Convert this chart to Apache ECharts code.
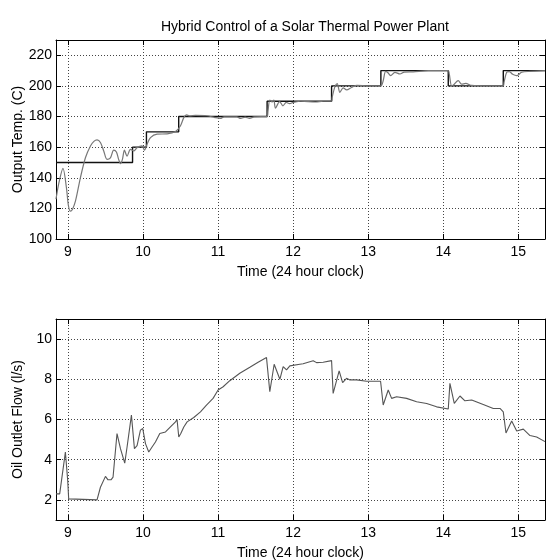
<!DOCTYPE html>
<html>
<head>
<meta charset="utf-8">
<script src="https://cdn.jsdelivr.net/npm/echarts@6/dist/echarts.min.js"></script>
<style>
html,body{margin:0;padding:0;background:#fff;}
#c{width:546px;height:560px;}
</style>
</head>
<body>
<div id="c"></div>
<script>
// ---- data (time in hours, 24h clock) ----
var setTime = [8.84, 9.86, 10.045, 10.475, 11.653, 12.512, 13.169, 14.067, 14.80, 15.356];
var setTemp = [150, 160, 170, 180, 190, 200, 210, 200, 210, 210];

var outTime = [8.84, 8.88, 8.933, 8.979, 9.005, 9.032, 9.06, 9.099, 9.165, 9.232, 9.299, 9.345, 9.387, 9.432, 9.476, 9.52, 9.565, 9.609, 9.645, 9.675, 9.699, 9.725, 9.752, 9.787, 9.832, 9.876, 9.92, 9.987, 10.019, 10.053, 10.099, 10.187, 10.32, 10.432, 10.499, 10.543, 10.58, 10.62, 10.70, 10.85, 10.95, 11.03, 11.08, 11.25, 11.30, 11.36, 11.42, 11.48, 11.653, 11.665, 11.689, 11.72, 11.743, 11.764, 11.82, 11.864, 11.908, 11.953, 12.00, 12.1, 12.3, 12.4, 12.512, 12.52, 12.556, 12.587, 12.623, 12.667, 12.712, 12.779, 12.85, 13.0, 13.169, 13.2, 13.232, 13.26, 13.299, 13.356, 13.423, 13.48, 13.6, 13.8, 14.067, 14.08, 14.112, 14.14, 14.2, 14.245, 14.30, 14.379, 14.6, 14.8, 14.81, 14.845, 14.88, 14.925, 14.979, 15.045, 15.156, 15.356];
var outTemp = [126, 137, 146.2, 133.5, 122, 118.2, 119.5, 124.7, 140, 153.1, 160.8, 163.8, 164.7, 163, 157.5, 152, 153, 158, 156.8, 152, 149.2, 152, 158, 154.2, 158.6, 157.5, 159.7, 160.8, 158, 161.9, 166.2, 168.5, 168.7, 170.2, 174, 179.3, 181.1, 180.4, 180.7, 180.5, 179.5, 178.8, 179.8, 179.8, 178.8, 179.6, 178.8, 179.8, 180, 183.7, 190.7, 189.5, 190.7, 185.5, 189.8, 187, 189.2, 188.5, 189.2, 190, 189.5, 190, 190, 192.5, 199.4, 201.5, 195.8, 198.7, 197.4, 199, 200.3, 200, 200, 203.4, 209.5, 208.8, 206.7, 208.9, 207.8, 209, 209.2, 210, 210, 207.8, 200.1, 200.8, 203.4, 201.2, 201.6, 200.3, 200, 200, 202.3, 208.9, 209.4, 207.6, 206.7, 208.9, 209.5, 210];

var flowTime = [8.84, 8.889, 8.907, 8.965, 8.996, 9.009, 9.387, 9.432, 9.499, 9.533, 9.573, 9.6, 9.653, 9.699, 9.756, 9.787, 9.845, 9.885, 9.92, 9.965, 9.996, 10.032, 10.076, 10.12, 10.165, 10.223, 10.299, 10.365, 10.432, 10.453, 10.476, 10.503, 10.543, 10.587, 10.676, 10.765, 10.845, 10.933, 11.0, 11.067, 11.156, 11.289, 11.423, 11.533, 11.645, 11.689, 11.747, 11.823, 11.867, 11.912, 11.956, 12.089, 12.133, 12.267, 12.312, 12.4, 12.512, 12.533, 12.613, 12.659, 12.712, 12.756, 12.845, 12.979, 13.165, 13.2, 13.267, 13.312, 13.379, 13.512, 13.645, 13.779, 13.912, 14.067, 14.089, 14.147, 14.223, 14.289, 14.379, 14.533, 14.667, 14.756, 14.8, 14.836, 14.912, 14.979, 15.067, 15.156, 15.245, 15.356];
var flowVal = [2.3, 2.3, 2.25, 4.38, 2.97, 2.05, 2.0, 2.63, 3.17, 3.0, 3.0, 3.13, 5.3, 4.55, 3.83, 4.63, 6.22, 4.55, 4.7, 5.47, 5.55, 4.8, 4.38, 4.63, 4.88, 5.3, 5.38, 5.63, 5.88, 6.0, 5.13, 5.3, 5.63, 5.88, 6.1, 6.38, 6.72, 7.05, 7.47, 7.63, 7.93, 8.3, 8.6, 8.85, 9.08, 7.38, 8.75, 8.0, 8.63, 8.47, 8.67, 8.75, 8.77, 8.92, 8.83, 8.85, 8.93, 7.3, 8.42, 7.83, 8.05, 7.97, 7.97, 7.9, 7.9, 6.72, 7.47, 7.05, 7.13, 7.05, 6.88, 6.8, 6.63, 6.52, 7.8, 6.8, 7.17, 6.93, 6.97, 6.75, 6.55, 6.55, 6.38, 5.33, 5.93, 5.43, 5.52, 5.2, 5.13, 4.9];

var tempTicks = [100, 120, 140, 160, 180, 200, 220];
var flowTicks = [2, 4, 6, 8, 10];
var hourTicks = [9, 10, 11, 12, 13, 14, 15];

function pairs(a, b) { return a.map(function (v, i) { return [v, b[i]]; }); }

var FONT = '"Liberation Sans", Arial, Helvetica, sans-serif';
var xMin = 8.84, xMax = 15.356;

function xAx(gi, pos, showLabel, name) {
  return {
    type: 'value', gridIndex: gi, position: pos, min: xMin, max: xMax,
    minInterval: 1, maxInterval: 1,
    name: name || '', nameLocation: 'middle', nameGap: 26, nameMoveOverlap: false,
    nameTextStyle: { fontFamily: FONT, fontSize: 14, color: '#000' },
    axisLine: { show: true, onZero: false, lineStyle: { color: '#000', width: 1 } },
    axisTick: { show: true, inside: true, length: 5, lineStyle: { color: '#000' } },
    axisLabel: {
      show: showLabel, margin: 6, fontFamily: FONT, fontSize: 14, color: '#000',
      formatter: function (v) { return hourTicks.indexOf(Math.round(v * 1000) / 1000) >= 0 ? String(v) : ''; }
    },
    splitLine: { show: showLabel, lineStyle: { color: '#444', type: [1, 2], width: 1 } }
  };
}
function yAx(gi, pos, showLabel, mn, mx, step, ticks, name) {
  return {
    type: 'value', gridIndex: gi, position: pos, min: mn, max: mx,
    minInterval: step, maxInterval: step,
    name: name || '', nameLocation: 'middle', nameGap: 31, nameMoveOverlap: false,
    nameTextStyle: { fontFamily: FONT, fontSize: 14, color: '#000' },
    axisLine: { show: true, onZero: false, lineStyle: { color: '#000', width: 1 } },
    axisTick: { show: true, inside: true, length: 5, lineStyle: { color: '#000' } },
    axisLabel: {
      show: showLabel, margin: 4, fontFamily: FONT, fontSize: 14, color: '#000',
      formatter: function (v) { return ticks.indexOf(v) >= 0 ? String(v) : ''; }
    },
    splitLine: { show: showLabel, lineStyle: { color: '#444', type: [1, 2], width: 1 } }
  };
}

var chart = echarts.init(document.getElementById('c'), null, { renderer: 'canvas' });
chart.setOption({
  animation: false,
  backgroundColor: '#fff',
  title: {
    text: 'Hybrid Control of a Solar Thermal Power Plant',
    left: 156, top: 15,
    textStyle: { fontFamily: FONT, fontSize: 14, fontWeight: 'normal', color: '#000' }
  },
  grid: [
    { left: 56, top: 40, width: 489, height: 199, containLabel: false, outerBoundsMode: 'none' },
    { left: 56, top: 319, width: 489, height: 201, containLabel: false, outerBoundsMode: 'none' }
  ],
  xAxis: [
    xAx(0, 'bottom', true, 'Time (24 hour clock)'),
    xAx(0, 'top', false),
    xAx(1, 'bottom', true, 'Time (24 hour clock)'),
    xAx(1, 'top', false)
  ],
  yAxis: [
    yAx(0, 'left', true, 100, 230, 20, tempTicks, 'Output Temp. (C)'),
    yAx(0, 'right', false, 100, 230, 20, tempTicks),
    yAx(1, 'left', true, 1, 11, 2, flowTicks, 'Oil Outlet Flow (l/s)'),
    yAx(1, 'right', false, 1, 11, 2, flowTicks)
  ],
  series: [
    {
      type: 'line', xAxisIndex: 0, yAxisIndex: 0, step: 'end', symbol: 'none',
      data: pairs(setTime, setTemp),
      lineStyle: { color: '#111', width: 1.4 }
    },
    {
      type: 'line', xAxisIndex: 0, yAxisIndex: 0, symbol: 'none', smooth: 0.3,
      data: pairs(outTime, outTemp),
      lineStyle: { color: '#777', width: 1.2 }
    },
    {
      type: 'line', xAxisIndex: 2, yAxisIndex: 2, symbol: 'none',
      data: pairs(flowTime, flowVal),
      lineStyle: { color: '#555', width: 1.1 }
    }
  ]
});
</script>
</body>
</html>
